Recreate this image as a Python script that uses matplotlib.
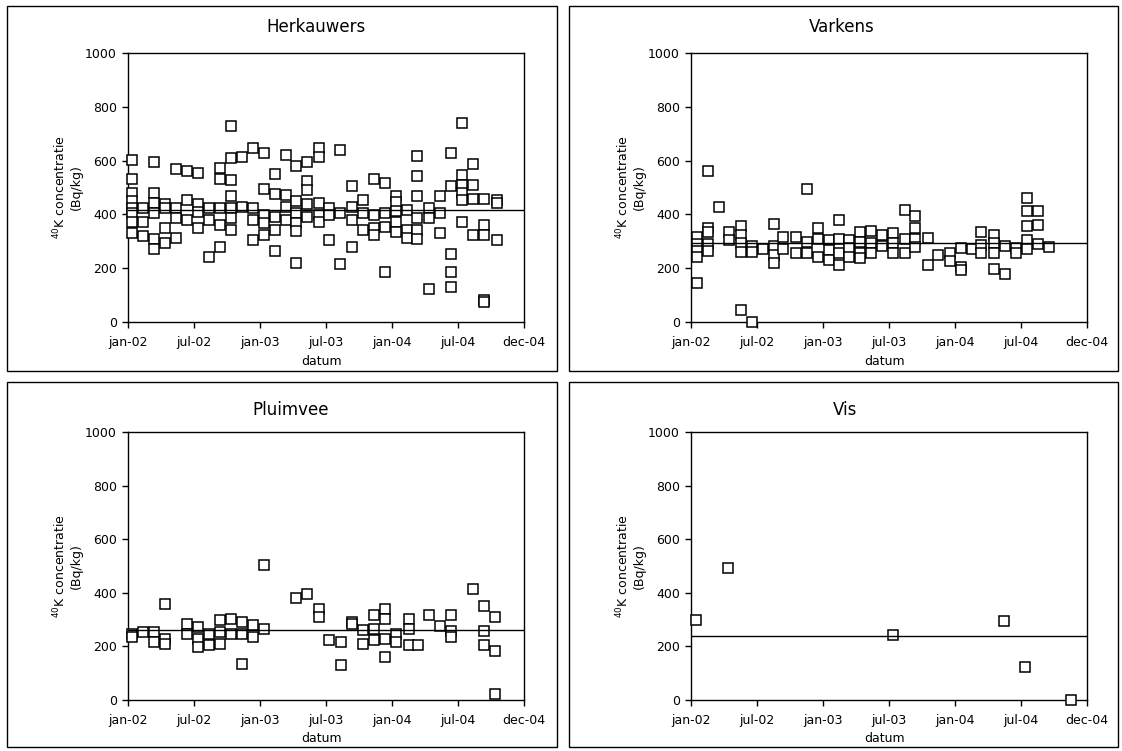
import matplotlib
matplotlib.use("Agg")
import matplotlib.pyplot as plt
from matplotlib.patches import Rectangle

# x = months since jan-02 (axis runs jan-02 .. dec-04 in six equal steps)
TICK_POS = [0, 6, 12, 18, 24, 30, 36]
TICK_LABELS = ["jan-02", "jul-02", "jan-03", "jul-03", "jan-04", "jul-04", "dec-04"]

# Herkauwers: (month, values) per sampling column
herk_cols = [
    (0.4, [603, 532, 481, 450, 425, 404, 370, 330]),
    (1.4, [425, 372, 320]),
    (2.35, [594, 479, 444, 404, 308, 270]),
    (3.4, [440, 423, 349, 293]),
    (4.4, [568, 423, 386, 311]),
    (5.35, [560, 454, 380]),
    (6.36, [553, 440, 408, 349]),
    (7.4, [423, 380, 240]),
    (8.4, [572, 532, 423, 361, 278]),
    (9.4, [727, 609, 529, 467, 423, 386, 342]),
    (10.4, [615, 429]),
    (11.4, [646, 423, 380, 305]),
    (12.4, [628, 494, 398, 367, 324]),
    (13.4, [550, 475, 392, 342, 264]),
    (14.4, [622, 473, 429, 380]),
    (15.3, [581, 448, 404, 367, 339, 218]),
    (16.3, [593, 525, 491, 440, 392]),
    (17.4, [646, 615, 444, 398, 370]),
    (18.3, [423, 398, 305]),
    (19.3, [638, 404, 215]),
    (20.4, [507, 427, 380, 280]),
    (21.4, [454, 404, 342]),
    (22.4, [531, 398, 349, 324]),
    (23.4, [516, 404, 355, 187]),
    (24.4, [467, 445, 411, 373, 336]),
    (25.4, [417, 342, 314]),
    (26.3, [618, 543, 467, 386, 342, 308]),
    (27.4, [423, 386, 122]),
    (28.4, [467, 404, 330]),
    (29.4, [630, 506, 253, 187, 129]),
    (30.4, [739, 547, 510, 481, 454, 373]),
    (31.4, [587, 510, 457, 324]),
    (32.4, [457, 361, 324, 82, 73]),
    (33.5, [454, 441, 303]),
]
herk_mean = 415

varkens_cols = [
    (0.5, [315, 290, 265, 240, 144]),
    (1.5, [563, 350, 335, 290, 265]),
    (2.5, [427]),
    (3.45, [336, 305]),
    (4.5, [357, 324, 293, 262, 45]),
    (5.5, [283, 262, 1]),
    (6.5, [270]),
    (7.5, [365, 283, 250, 218]),
    (8.4, [315, 270]),
    (9.5, [315, 255]),
    (10.5, [494, 299, 258]),
    (11.5, [349, 308, 243]),
    (12.5, [303, 268, 231]),
    (13.45, [380, 310, 255, 212]),
    (14.4, [303, 274, 243]),
    (15.4, [336, 299, 255, 237]),
    (16.4, [339, 295, 255]),
    (17.4, [324, 283]),
    (18.4, [330, 295, 258]),
    (19.45, [417, 308, 255]),
    (20.4, [395, 351, 310, 280]),
    (21.5, [314, 212]),
    (22.45, [250]),
    (23.5, [258, 225]),
    (24.5, [274, 206, 194]),
    (25.5, [270]),
    (26.4, [336, 287, 255]),
    (27.5, [324, 293, 255, 196]),
    (28.5, [283, 179]),
    (29.5, [274, 255]),
    (30.5, [460, 411, 357, 305, 270]),
    (31.5, [411, 361, 289]),
    (32.5, [278]),
]
varkens_mean = 292

pluim_cols = [
    (0.4, [247, 235]),
    (1.4, [254]),
    (2.35, [254, 216]),
    (3.4, [360, 229, 210]),
    (5.35, [285, 247]),
    (6.36, [272, 229, 198]),
    (7.4, [247, 204]),
    (8.4, [297, 254, 210]),
    (9.4, [303, 247]),
    (10.4, [291, 247, 136]),
    (11.4, [279, 235]),
    (12.4, [505, 266]),
    (15.3, [381]),
    (16.3, [397]),
    (17.4, [341, 310]),
    (18.3, [223]),
    (19.4, [216, 132]),
    (20.4, [291, 285]),
    (21.4, [260, 210]),
    (22.4, [316, 266, 223]),
    (23.4, [341, 301, 229, 160]),
    (24.4, [247, 216]),
    (25.5, [301, 264, 204]),
    (26.4, [206]),
    (27.4, [316]),
    (28.4, [276]),
    (29.4, [318, 256, 235]),
    (31.4, [415]),
    (32.4, [351, 256, 206]),
    (33.4, [310, 182, 24]),
]
pluim_mean = 260

vis_cols = [
    (0.42, [298]),
    (3.4, [491]),
    (18.4, [242]),
    (28.45, [295]),
    (30.4, [124]),
    (34.5, [0]),
]
vis_mean = 240

panels = [
    ("Herkauwers", herk_cols, herk_mean),
    ("Varkens", varkens_cols, varkens_mean),
    ("Pluimvee", pluim_cols, pluim_mean),
    ("Vis", vis_cols, vis_mean),
]

W, H = 1122, 751
# pixel layout: axes (left, right, top, bottom), frame box, title centre
axes_px = [(128, 524, 53, 322), (691, 1087, 53, 322),
           (128, 524, 432, 700), (691, 1087, 432, 700)]
box_px = [(7, 557, 6, 371), (569, 1118, 6, 371),
          (7, 557, 382, 747), (569, 1118, 382, 747)]
title_px = [(316, 27), (842, 27), (291, 410), (845, 410)]

plt.rcParams["font.family"] = "DejaVu Sans"
fig = plt.figure(figsize=(W / 100, H / 100), dpi=100, facecolor="white")

for i, (title, cols, mean) in enumerate(panels):
    l, r, t, b = axes_px[i]
    ax = fig.add_axes([l / W, 1 - b / H, (r - l) / W, (b - t) / H])

    xs = [m for m, vals in cols for _ in vals]
    ys = [v for _, vals in cols for v in vals]
    ax.plot(xs, ys, linestyle="none", marker="s", ms=7.2, mfc="white",
            mec="black", mew=1.1, clip_on=False, zorder=3)
    ax.plot([0, 36], [mean, mean], color="black", lw=1.0, zorder=4)

    ax.set_xlim(0, 36)
    ax.set_ylim(0, 1000)
    ax.set_xticks(TICK_POS)
    ax.set_xticklabels(TICK_LABELS)
    ax.set_yticks(range(0, 1001, 200))
    ax.tick_params(direction="out", length=4, width=1, labelsize=9, pad=4)
    ax.tick_params(axis="x", pad=6)
    for sp in ax.spines.values():
        sp.set_linewidth(1)
        sp.set_color("black")

    ax.text(-0.154, 0.5, "$^{40}$K concentratie\n(Bq/kg)", transform=ax.transAxes,
            rotation=90, ha="center", va="center", multialignment="center", fontsize=9)
    ax.text(0.49, -0.145, "datum", transform=ax.transAxes, ha="center", va="center",
            fontsize=9)

    tx, ty = title_px[i]
    fig.text(tx / W, 1 - ty / H, title, ha="center", va="center", fontsize=12)

    bl, br, bt, bb = box_px[i]
    fig.patches.append(Rectangle((bl / W, 1 - bb / H), (br - bl) / W, (bb - bt) / H,
                                 transform=fig.transFigure, fill=False,
                                 edgecolor="black", lw=1))

fig.savefig("out.png", dpi=100, facecolor="white")
